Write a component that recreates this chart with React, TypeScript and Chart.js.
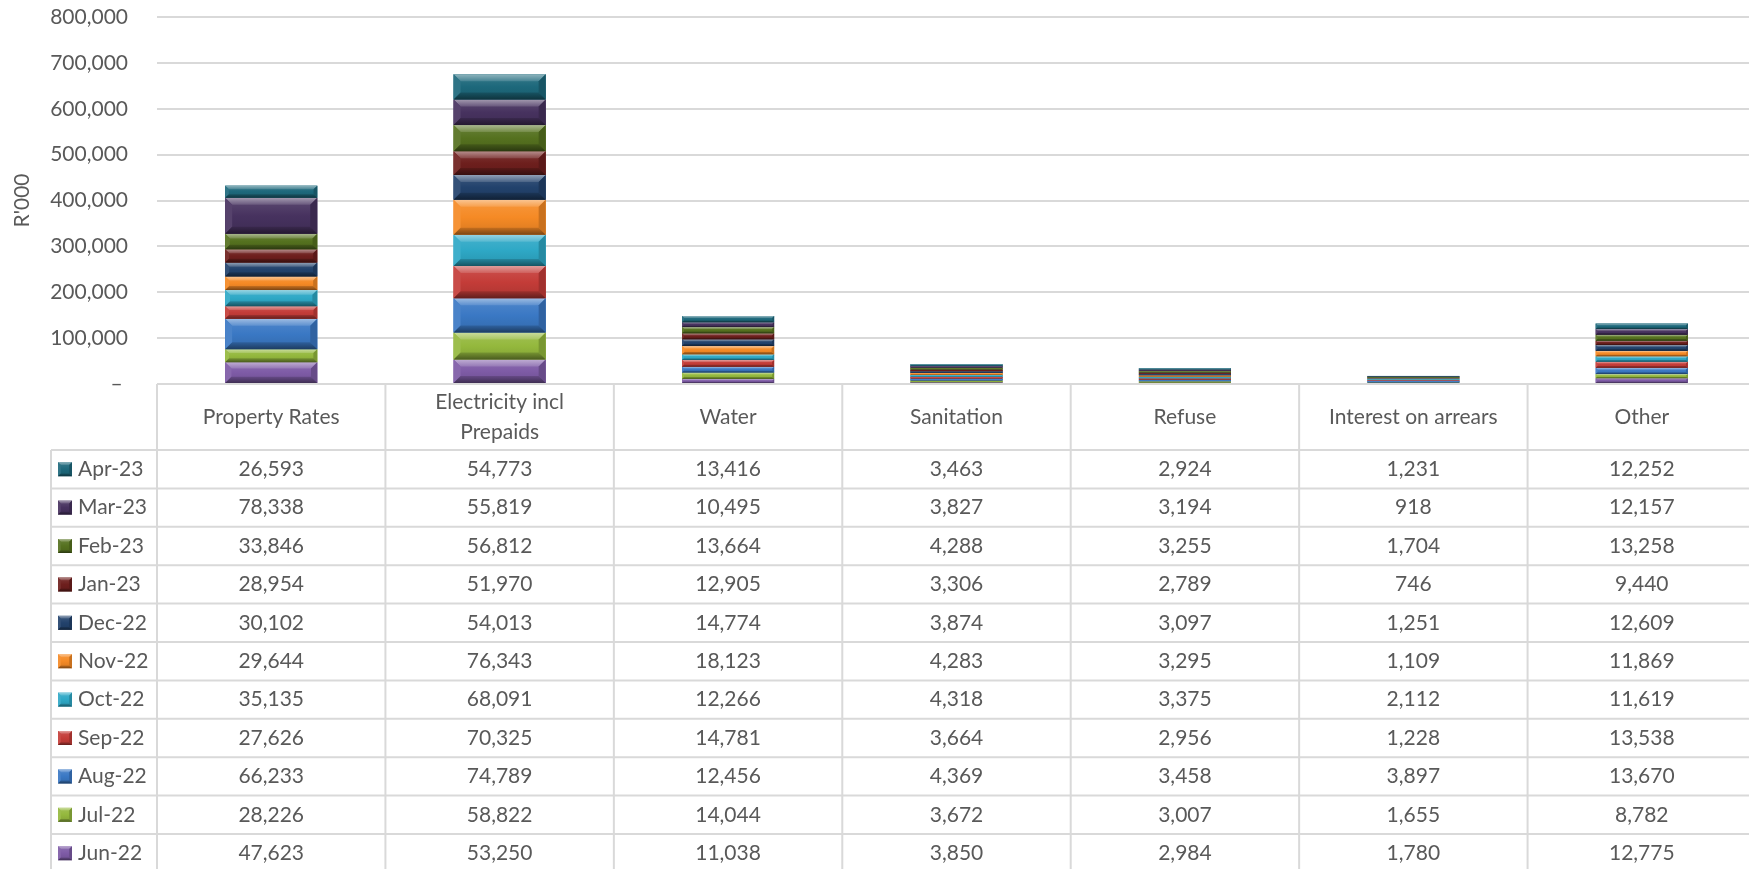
import { useEffect, useRef } from "react";
import { Chart, registerables } from "chart.js";

Chart.register(...registerables);

// ---------- data ----------
const categories: string[][] = [
  ["Property Rates"],
  ["Electricity incl", "Prepaids"],
  ["Water"],
  ["Sanitation"],
  ["Refuse"],
  ["Interest on arrears"],
  ["Other"],
];

// series in stacking order (bottom -> top)
const months = ["Jun-22", "Jul-22", "Aug-22", "Sep-22", "Oct-22", "Nov-22", "Dec-22", "Jan-23", "Feb-23", "Mar-23", "Apr-23"];

const jun22 = [47623, 53250, 11038, 3850, 2984, 1780, 12775];
const jul22 = [28226, 58822, 14044, 3672, 3007, 1655, 8782];
const aug22 = [66233, 74789, 12456, 4369, 3458, 3897, 13670];
const sep22 = [27626, 70325, 14781, 3664, 2956, 1228, 13538];
const oct22 = [35135, 68091, 12266, 4318, 3375, 2112, 11619];
const nov22 = [29644, 76343, 18123, 4283, 3295, 1109, 11869];
const dec22 = [30102, 54013, 14774, 3874, 3097, 1251, 12609];
const jan23 = [28954, 51970, 12905, 3306, 2789, 746, 9440];
const feb23 = [33846, 56812, 13664, 4288, 3255, 1704, 13258];
const mar23 = [78338, 55819, 10495, 3827, 3194, 918, 12157];
const apr23 = [26593, 54773, 13416, 3463, 2924, 1231, 12252];

const seriesValues = [jun22, jul22, aug22, sep22, oct22, nov22, dec22, jan23, feb23, mar23, apr23];

const seriesColors = [
  "#7E5BA6", "#94B83D", "#3A78C4", "#C43C38", "#2EA8C6", "#F58A25",
  "#22426C", "#6E1F1D", "#55711F", "#47325F", "#1D687B",
];

const yAxisTitle = "R'000";
const yMin = 0;
const yMax = 800000;
const yStep = 100000;

// ---------- styling ----------
const FONT = "Lato";
const FONT_SIZE = 21;
const TEXT_COLOR = "#595959";
const GRID_COLOR = "#D9D9D9";

const fmt = (v: number) => v.toLocaleString("en-US");

function hexToRgb(hex: string) {
  const h = hex.replace("#", "");
  return [parseInt(h.slice(0, 2), 16), parseInt(h.slice(2, 4), 16), parseInt(h.slice(4, 6), 16)];
}
function mix(hex: string, target: number[], t: number) {
  const c = hexToRgb(hex);
  const r = c.map((v, i) => Math.round(v + (target[i] - v) * t));
  return `rgb(${r[0]},${r[1]},${r[2]})`;
}
const WHITE = [255, 255, 255];
const BLACK = [0, 0, 0];

function drawBevel(ctx: CanvasRenderingContext2D, left: number, top: number, w: number, h: number, color: string, maxB: number) {
  if (h <= 0 || w <= 0) return;
  const b = Math.min(maxB, h * 0.3, w * 0.2);
  ctx.save();
  const g = ctx.createLinearGradient(0, top, 0, top + h);
  g.addColorStop(0, mix(color, WHITE, 0.12));
  g.addColorStop(0.5, color);
  g.addColorStop(1, mix(color, BLACK, 0.12));
  ctx.fillStyle = g;
  ctx.fillRect(left, top, w, h);
  const poly = (pts: number[][], fill: any) => {
    ctx.beginPath();
    ctx.moveTo(pts[0][0], pts[0][1]);
    for (let i = 1; i < pts.length; i++) ctx.lineTo(pts[i][0], pts[i][1]);
    ctx.closePath();
    ctx.fillStyle = fill;
    ctx.fill();
  };
  const r = left + w;
  const btm = top + h;
  const gt = ctx.createLinearGradient(0, top, 0, top + b);
  gt.addColorStop(0, mix(color, WHITE, 0.5));
  gt.addColorStop(1, mix(color, WHITE, 0.18));
  poly([[left, top], [r, top], [r - b, top + b], [left + b, top + b]], gt);
  poly([[left, top], [left + b, top + b], [left + b, btm - b], [left, btm]], mix(color, WHITE, 0.08));
  poly([[r, top], [r - b, top + b], [r - b, btm - b], [r, btm]], mix(color, BLACK, 0.18));
  const gb = ctx.createLinearGradient(0, btm - b, 0, btm);
  gb.addColorStop(0, mix(color, BLACK, 0.2));
  gb.addColorStop(1, mix(color, BLACK, 0.5));
  poly([[left, btm], [r, btm], [r - b, btm - b], [left + b, btm - b]], gb);
  ctx.restore();
}

const bevelPlugin = {
  id: "bevel",
  afterDatasetsDraw(chart: any) {
    const ctx = chart.ctx as CanvasRenderingContext2D;
    const area = chart.chartArea;
    ctx.save();
    ctx.beginPath();
    ctx.rect(area.left, area.top - 2, area.width, area.height + 2);
    ctx.clip();
    chart.data.datasets.forEach((ds: any, di: number) => {
      const meta = chart.getDatasetMeta(di);
      meta.data.forEach((el: any) => {
        const { x, y, base, width } = el.getProps(["x", "y", "base", "width"], true);
        const top = Math.min(y, base);
        const h = Math.abs(base - y);
        drawBevel(ctx, x - width / 2, top, width, h, seriesColors[di], 7);
      });
    });
    ctx.restore();
  },
};

const tablePlugin = {
  id: "dataTable",
  afterDraw(chart: any) {
    const ctx = chart.ctx as CanvasRenderingContext2D;
    const area = chart.chartArea;
    const xs = chart.scales.x;
    const n = categories.length;
    const colW = area.width / n;
    const top = area.bottom;
    const headerH = 66;
    const rowH = 38.4;
    const legendLeft = 51;
    const rows = months.length;
    const bottom = top + headerH + rows * rowH;

    ctx.save();
    ctx.strokeStyle = GRID_COLOR;
    ctx.lineWidth = 2;
    ctx.beginPath();
    ctx.moveTo(area.left, top);
    ctx.lineTo(area.right, top);
    for (let i = 0; i <= rows; i++) {
      const y = top + headerH + i * rowH;
      ctx.moveTo(legendLeft, y);
      ctx.lineTo(area.right, y);
    }
    for (let c = 0; c <= n; c++) {
      const x = area.left + c * colW;
      ctx.moveTo(x, top);
      ctx.lineTo(x, bottom);
    }
    ctx.moveTo(legendLeft, top + headerH);
    ctx.lineTo(legendLeft, bottom);
    ctx.stroke();

    ctx.fillStyle = TEXT_COLOR;
    ctx.font = `${FONT_SIZE}px ${FONT}`;
    ctx.textBaseline = "middle";
    ctx.textAlign = "center";
    categories.forEach((lines, c) => {
      const cx = xs.getPixelForValue(c);
      const lh = 30;
      lines.forEach((t, k) => {
        ctx.fillText(t, cx, top + headerH / 2 + (k - (lines.length - 1) / 2) * lh);
      });
    });

    for (let r = 0; r < rows; r++) {
      const di = rows - 1 - r;
      const cy = top + headerH + (r + 0.5) * rowH;
      drawBevel(ctx, 58, cy - 7, 14, 14, seriesColors[di], 3);
      ctx.fillStyle = TEXT_COLOR;
      ctx.textAlign = "left";
      ctx.fillText(months[di], 78, cy);
      ctx.textAlign = "center";
      seriesValues[di].forEach((v, c) => {
        ctx.fillText(fmt(v), xs.getPixelForValue(c), cy);
      });
    }
    ctx.restore();
  },
};

export default function App() {
  const ref = useRef<HTMLCanvasElement | null>(null);

  useEffect(() => {
    if (!ref.current) return;
    const chart = new Chart(ref.current, {
      type: "bar",
      data: {
        labels: categories.map((c) => c.join(" ")),
        datasets: months.map((m, i) => ({
          label: m,
          data: seriesValues[i],
          backgroundColor: seriesColors[i],
          borderWidth: 0,
          categoryPercentage: 1,
          barPercentage: 0.403,
        })),
      },
      options: {
        responsive: false,
        animation: false,
        maintainAspectRatio: false,
        layout: { padding: { top: 17, right: 4, bottom: 485, left: 0 } },
        plugins: {
          legend: { display: false },
          tooltip: { enabled: false },
        },
        scales: {
          x: {
            stacked: true,
            display: false,
          },
          y: {
            stacked: true,
            min: yMin,
            max: yMax,
            afterFit: (s: any) => {
              s.width = 157;
            },
            ticks: {
              stepSize: yStep,
              padding: 0,
              color: TEXT_COLOR,
              font: { family: FONT, size: FONT_SIZE },
              callback: (v: any) => (Number(v) === 0 ? "– " : fmt(Number(v))),
            },
            grid: { color: GRID_COLOR, lineWidth: 2, drawTicks: true, tickLength: 29, tickColor: "rgba(0,0,0,0)" },
            border: { display: false },
            title: {
              display: true,
              text: yAxisTitle,
              color: TEXT_COLOR,
              font: { family: FONT, size: FONT_SIZE },
              padding: { top: 10, bottom: 0 },
            },
          },
        },
      },
      plugins: [bevelPlugin, tablePlugin],
    });
    return () => chart.destroy();
  }, []);

  return (
    <div style={{ position: "absolute", left: 0, top: 0, width: 1749, height: 869, overflow: "hidden", background: "#fff" }}>
      <canvas ref={ref} width={1760} height={869} style={{ display: "block", width: 1760, height: 869 }} />
    </div>
  );
}
